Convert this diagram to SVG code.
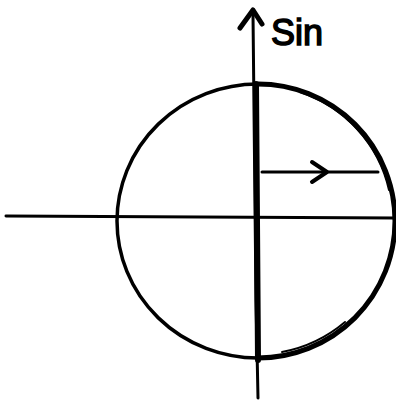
<svg xmlns="http://www.w3.org/2000/svg" width="396" height="403" viewBox="0 0 396 403">
<style>
.ln{fill:none;stroke:#000;stroke-linecap:round;stroke-linejoin:round}
.lbl{font-family:"Liberation Sans",Arial,sans-serif;font-size:36px;fill:#000;stroke:#000;stroke-width:1.5}
</style>
<rect width="396" height="403" fill="#fff"/>
<g id="circle">
<path class="ln" stroke-width="3.5" d="M258 84 A141 137 0 0 0 258 358"/>
<path class="ln" stroke-width="5" d="M258 84 A136 136 0 0 1 258 358"/>
<path class="ln" stroke-width="2" d="M300 92 A136 134 0 0 1 389 190"/>
<path class="ln" stroke-width="2" d="M282 352 A136 134 0 0 0 345 322"/>
</g>
<g id="connectors">
<path class="ln" stroke-width="3" d="M6 216 L396 218"/>
<path class="ln" stroke-width="3" d="M253 14 L256 300 L258 398"/>
<path class="ln" stroke-width="6" d="M256 84 L258 360"/>
<path class="ln" stroke-width="5" d="M240 28 L253 10 L262 24"/>
<path class="ln" stroke-width="3" d="M262 172 L378 172"/>
<path class="ln" stroke-width="4" d="M312 162 L327 172 L312 182"/>
</g>
<g id="label">
<text class="lbl" x="271" y="45">Sin</text>
</g>
</svg>
